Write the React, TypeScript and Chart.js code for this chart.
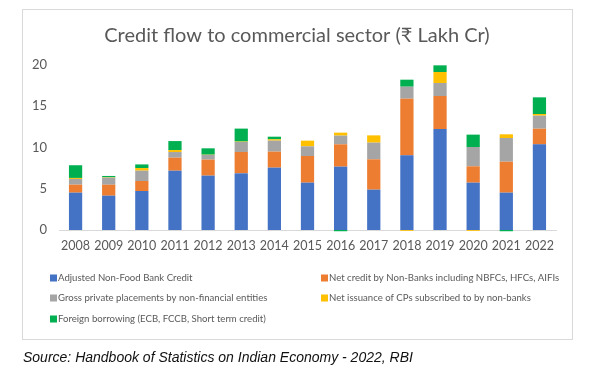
import React, { useEffect, useRef } from "react";
import { Chart, registerables } from "chart.js";

Chart.register(...registerables);

const years = ["2008", "2009", "2010", "2011", "2012", "2013", "2014", "2015", "2016", "2017", "2018", "2019", "2020", "2021", "2022"];
const bankCredit = [4.53, 4.16, 4.73, 7.19, 6.59, 6.87, 7.56, 5.74, 7.68, 4.89, 9.05, 12.24, 5.74, 4.53, 10.38];
const nonBanks = [0.97, 1.33, 1.21, 1.58, 1.94, 2.59, 1.94, 3.23, 2.71, 3.68, 6.87, 4.0, 1.98, 3.75, 1.9];
const privatePlacements = [0.69, 0.85, 1.25, 0.68, 0.57, 1.21, 1.33, 1.17, 1.05, 2.02, 1.45, 1.58, 2.34, 2.87, 1.58];
const cpIssuance = [0.12, 0.05, 0.32, 0.24, 0.03, 0.05, 0.16, 0.69, 0.36, 0.88, -0.1, 1.33, -0.1, 0.45, 0.2];
const foreignBorrowing = [1.54, 0.16, 0.44, 1.09, 0.77, 1.57, 0.32, 0, -0.15, 0, 0.85, 0.81, 1.5, -0.15, 2.02];
const yTicks = [0, 5, 10, 15, 20];

const seriesNames = [
  "Adjusted Non-Food Bank Credit",
  "Net credit by Non-Banks including NBFCs, HFCs, AIFIs",
  "Gross private placements by non-financial entities",
  "Net issuance of CPs subscribed to by non-banks",
  "Foreign borrowing (ECB, FCCB, Short term credit)",
];
const seriesColors = ["#4472C4", "#ED7D31", "#A5A5A5", "#FFC000", "#00B050"];
const titleText = "Credit flow to commercial sector (₹ Lakh Cr)";
const sourceText = "Source: Handbook of Statistics on Indian Economy - 2022, RBI";

const FONT = "Lato, 'Open Sans', sans-serif";

const decorPlugin = {
  id: "decor",
  beforeDraw(chart: any) {
    const ctx = chart.ctx;
    ctx.save();
    ctx.fillStyle = "#ffffff";
    ctx.fillRect(0, 0, chart.width, chart.height);
    ctx.strokeStyle = "#d9d9d9";
    ctx.lineWidth = 1;
    ctx.strokeRect(22.5, 9.5, 550, 330);
    ctx.fillStyle = "#595959";
    ctx.font = `20px ${FONT}`;
    ctx.textAlign = "center";
    ctx.textBaseline = "alphabetic";
    ctx.fillText(titleText, 297, 42);
    ctx.restore();
  },
  afterDraw(chart: any) {
    const ctx = chart.ctx;
    ctx.save();
    const cols = [50, 321];
    const rows = [278, 298, 319];
    ctx.font = `9.6px ${FONT}`;
    ctx.textBaseline = "middle";
    ctx.textAlign = "left";
    chart.data.datasets.forEach((ds: any, i: number) => {
      const x = cols[i % 2];
      const y = rows[Math.floor(i / 2)];
      ctx.fillStyle = ds.backgroundColor;
      ctx.fillRect(x, y - 3.5, 7, 7);
      ctx.fillStyle = "#595959";
      ctx.fillText(ds.label, x + 8, y);
    });
    ctx.fillStyle = "#111111";
    ctx.font = `italic 14px 'Liberation Sans', Arial, sans-serif`;
    ctx.textBaseline = "middle";
    ctx.fillText(sourceText, 23, 358);
    ctx.restore();
  },
};

export default function App() {
  const ref = useRef<HTMLCanvasElement>(null);
  useEffect(() => {
    if (!ref.current) return;
    const dataArrays = [bankCredit, nonBanks, privatePlacements, cpIssuance, foreignBorrowing];
    const chart = new Chart(ref.current, {
      type: "bar",
      data: {
        labels: years,
        datasets: dataArrays.map((d, i) => ({
          label: seriesNames[i],
          data: d,
          backgroundColor: seriesColors[i],
          borderWidth: 0,
          barPercentage: 0.5,
          categoryPercentage: 0.8,
          clip: false as any,
        })),
      },
      options: {
        animation: false,
        responsive: false,
        devicePixelRatio: 1,
        layout: { padding: { top: 65, left: 0, right: 52, bottom: 0 } },
        plugins: {
          legend: { display: false },
          title: { display: false },
          tooltip: { enabled: false },
        },
        scales: {
          x: {
            stacked: true,
            grid: { display: false, drawTicks: false },
            border: { display: true, color: "#d9d9d9", width: 1 },
            ticks: {
              color: "#595959",
              font: { family: FONT, size: 12.5 },
              padding: 8,
              maxRotation: 0,
              minRotation: 0,
              autoSkip: false,
            },
            afterFit: (s: any) => {
              s.height = 152;
            },
          },
          y: {
            stacked: true,
            min: 0,
            max: 20,
            afterBuildTicks: (s: any) => {
              s.ticks = yTicks.map((v) => ({ value: v }));
            },
            grid: { display: false, drawTicks: false },
            border: { display: false },
            ticks: { color: "#595959", font: { family: FONT, size: 13 }, padding: 12 },
            afterFit: (s: any) => {
              s.width = 59;
            },
          },
        },
      },
      plugins: [decorPlugin],
    });
    return () => chart.destroy();
  }, []);
  return (
    <div style={{ position: "absolute", left: 0, top: 0, width: 608, height: 382 }}>
      <canvas ref={ref} width={608} height={382} style={{ display: "block" }} />
    </div>
  );
}
